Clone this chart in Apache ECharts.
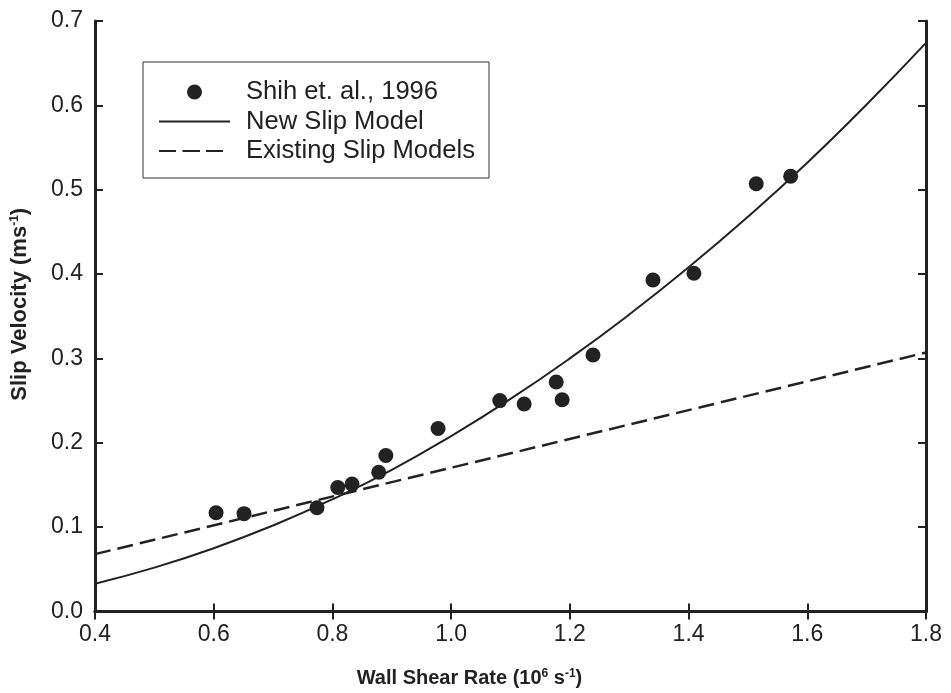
<!DOCTYPE html>
<html><head><meta charset="utf-8">
<script src="https://cdn.jsdelivr.net/npm/echarts@6/dist/echarts.min.js"></script>
<style>html,body{margin:0;padding:0;background:#fff}#c{width:951px;height:693px}</style>
</head><body><div id="c"></div>
<script>
// Measured data (Shih et al., 1996)
const shihX = [0.604, 0.651, 0.774, 0.809, 0.833, 0.878, 0.890, 0.978, 1.082, 1.123, 1.177, 1.187, 1.239, 1.340, 1.409, 1.514, 1.572];
const shihY = [0.117, 0.116, 0.123, 0.147, 0.151, 0.165, 0.185, 0.217, 0.250, 0.246, 0.272, 0.251, 0.304, 0.393, 0.401, 0.507, 0.516];
// New slip model curve
const newX = [0.4, 0.5, 0.6, 0.7, 0.8, 0.9, 1.0, 1.1, 1.2, 1.3, 1.4, 1.5, 1.6, 1.7, 1.8];
const newY = [0.033, 0.052, 0.075, 0.102, 0.133, 0.168, 0.208, 0.252, 0.300, 0.352, 0.408, 0.468, 0.532, 0.601, 0.674];
// Existing slip models (straight line)
const oldX = [0.4, 1.8];
const oldY = [0.068, 0.307];
const xTicks = [0.4, 0.6, 0.8, 1.0, 1.2, 1.4, 1.6, 1.8];
const yTicks = [0.0, 0.1, 0.2, 0.3, 0.4, 0.5, 0.6, 0.7];
const legendNames = ['Shih et. al., 1996', 'New Slip Model', 'Existing Slip Models'];

const zip = (a, b) => a.map((v, i) => [v, b[i]]);
const ink = '#222';
const font = 'Liberation Sans, Arial, sans-serif';

// legend icon shapes (71 x 15 boxes)
const box = 'M0,0h0.01v0.01h-0.01z M70.99,14.99h0.01v0.01h-0.01z ';
const dotIcon = 'path://' + box + 'M27.5,7.5 a8,8 0 1,0 16,0 a8,8 0 1,0 -16,0 z';
const solidIcon = 'path://' + box + 'M0,6.5h71v2h-71z';
const dashIcon = 'path://' + box + 'M0,6.5h17v2h-17z M23.5,6.5h17.5v2h-17.5z M47,6.5h17v2h-17z';

const axisCommon = {
  type: 'value',
  axisLine: { show: true, lineStyle: { color: ink, width: 3 } },
  axisTick: { show: true, inside: true, length: 8, lineStyle: { color: ink, width: 2 } },
  splitLine: { show: false }
};
const supStyle = { fontSize: 12, fontWeight: 'bold', fontFamily: font, color: ink, verticalAlign: 'top', padding: [0, 0, 9, 0] };

const chart = echarts.init(document.getElementById('c'), null, { renderer: 'canvas' });
chart.setOption({
  animation: false,
  backgroundColor: '#fff',
  grid: { left: 95, right: 25, top: 21, bottom: 73, containLabel: false },
  xAxis: [
    Object.assign({}, axisCommon, {
      min: xTicks[0], max: xTicks[xTicks.length - 1], interval: 0.2, position: 'bottom',
      axisLabel: { color: ink, fontSize: 23, fontFamily: font, margin: 12, formatter: v => v.toFixed(1) },
      name: 'Wall Shear Rate (10{sup|6} s{sup|-1})',
      nameLocation: 'middle', nameGap: 56,
      nameTextStyle: {
        color: ink, fontSize: 20, fontWeight: 'bold', fontFamily: font,
        padding: [0, 82, 0, 0],
        rich: { sup: supStyle }
      }
    }),
    Object.assign({}, axisCommon, {
      min: xTicks[0], max: xTicks[xTicks.length - 1], interval: 0.2, position: 'top',
      axisLabel: { show: false }
    })
  ],
  yAxis: [
    Object.assign({}, axisCommon, {
      min: yTicks[0], max: yTicks[yTicks.length - 1], interval: 0.1, position: 'left',
      axisLabel: { color: ink, fontSize: 23, fontFamily: font, margin: 12, formatter: v => v.toFixed(1) },
      name: 'Slip Velocity (ms{sup|-1})',
      nameLocation: 'middle', nameGap: 64, nameRotate: 90,
      nameTextStyle: {
        color: ink, fontSize: 22, fontWeight: 'bold', fontFamily: font,
        padding: [0, 0, 0, 24],
        rich: { sup: supStyle }
      }
    }),
    Object.assign({}, axisCommon, {
      min: yTicks[0], max: yTicks[yTicks.length - 1], interval: 0.1, position: 'right',
      axisLabel: { show: false }
    })
  ],
  legend: {
    orient: 'vertical', left: 143, top: 62,
    backgroundColor: '#fff', borderColor: '#333', borderWidth: 1,
    padding: [17, 14, 14, 16],
    itemWidth: 71, itemHeight: 15, itemGap: 3.5,
    textStyle: { color: ink, fontSize: 25.6, lineHeight: 25, fontFamily: font, padding: [0, 0, 0, 11] },
    data: [
      { name: legendNames[0], icon: dotIcon, itemStyle: { color: ink } },
      { name: legendNames[1], icon: solidIcon, itemStyle: { color: ink } },
      { name: legendNames[2], icon: dashIcon, itemStyle: { color: ink } }
    ]
  },
  series: [
    {
      name: legendNames[1], type: 'line', smooth: true, symbol: 'none',
      data: zip(newX, newY), lineStyle: { color: ink, width: 2 }, itemStyle: { color: ink }, z: 2
    },
    {
      name: legendNames[2], type: 'line', symbol: 'none',
      data: zip(oldX, oldY), lineStyle: { color: ink, width: 2.5, type: [16, 7] }, itemStyle: { color: ink }, z: 2
    },
    {
      name: legendNames[0], type: 'scatter', symbol: 'circle', symbolSize: 15,
      data: zip(shihX, shihY), itemStyle: { color: ink, opacity: 1 }, z: 3
    }
  ]
});
</script></body></html>
